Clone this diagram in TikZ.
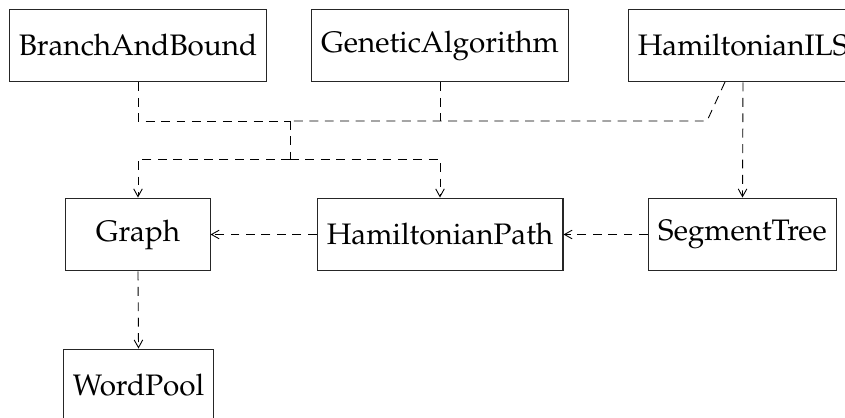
\documentclass[tikz,border=0pt]{standalone}
\usepackage[T1]{fontenc}
\usepackage{mathpazo}
\usepackage{tikz}
\usetikzlibrary{arrows.meta}

\tikzset{
  cls/.style={draw=black!85, line width=0.35pt, rectangle, minimum width=48.6pt, minimum height=24.6pt, inner sep=3.3pt},
  dep/.style={line width=0.3pt, dash pattern=on 3pt off 2.2pt},
  dep arrow/.style={dep, -{Straight Barb[length=2.6pt,width=2.9pt,line width=0.3pt]}}
}

\begin{document}
\begin{tikzpicture}[x=0.3373pt, y=-0.3373pt]
        \useasboundingbox (0,0) rectangle (845,418);
        % classes
        \node [cls] (bab) at (138,45.5) {BranchAndBound};
        \node [cls] (ga) at (440,45.5) {GeneticAlgorithm};
        \node [cls] (ils) at (743,45.5) {HamiltonianILS};
        \node [cls] (graph) at (138,234.5) {Graph};
        \node [cls] (hp) at (440,234.5) {HamiltonianPath};
        \node [cls] (st) at (742.5,234.5) {SegmentTree};
        \node [cls] (wp) at (138.5,385.5) {WordPool};
        % junctions
        \coordinate (top) at (290,121);
        \coordinate (low) at (290,159);
        \coordinate (ilsout) at (725,82);
        \coordinate (bend) at (707,121);
        % dependencies
        \draw [dep] (bab.south) |- (top);
        \draw [dep] (ga.south) -- (ga.south |- top);
        \draw [dep] (ilsout) -- (bend) -- (top);
        \draw [dep] (top) -- (low);
        \draw [dep arrow] (low) -| (graph.north);
        \draw [dep arrow] (low) -| (hp.north);
        \draw [dep arrow] (ils.south) -- (st.north);
        \draw [dep arrow] (st.west) -- (hp.east);
        \draw [dep arrow] (hp.west) -- (graph.east);
        \draw [dep arrow] (graph.south) -- (wp.north);
\end{tikzpicture}
\end{document}
